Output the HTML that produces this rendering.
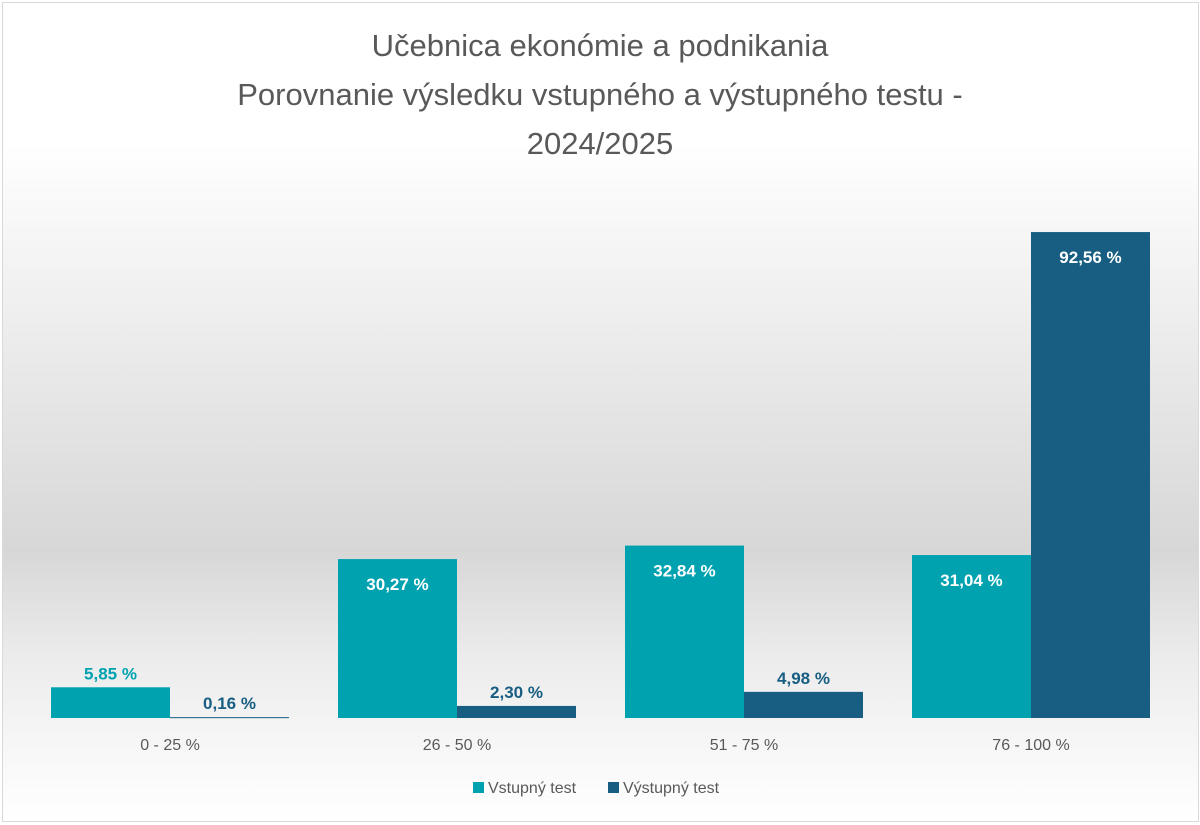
<!DOCTYPE html>
<html><head><meta charset="utf-8">
<style>
body{margin:0;width:1200px;height:825px;overflow:hidden;background:#fff;font-family:"Liberation Sans",sans-serif}
#wrap{position:absolute;left:2px;top:2px;width:1195px;height:818px;border:1px solid #d9d9d9;
background:linear-gradient(to bottom,#fff 0px,#fff 140px,#d7d7d7 548px,#ebebeb 650px,#fbfbfb 780px,#fff 818px)}
</style></head><body>
<div id="wrap"></div>
<svg id="chart" width="1200" height="825" style="position:absolute;left:0;top:0">
<text x="600" y="56" text-anchor="middle" font-size="31" fill="#595959">Učebnica ekonómie a podnikania</text>
<text x="600" y="105" text-anchor="middle" font-size="31" fill="#595959">Porovnanie výsledku vstupného a výstupného testu -</text>
<text x="600" y="154" text-anchor="middle" font-size="31" fill="#595959">2024/2025</text>
<g id="bars"></g>
<g>
<rect x="473" y="782" width="11" height="11" fill="#00a2b0"/>
<text x="488" y="793" font-size="16" fill="#595959">Vstupný test</text>
<rect x="608" y="782" width="11" height="11" fill="#175e82"/>
<text x="623" y="793" font-size="16" fill="#595959">Výstupný test</text>
</g>
</svg>
<script>
const categories=["0 - 25 %","26 - 50 %","51 - 75 %","76 - 100 %"];
const vstupny=[5.85,30.27,32.84,31.04];
const vystupny=[0.16,2.30,4.98,92.56];
const baseY=718, pxPer=5.25, x0=51, groupW=287, barW=119;
const y=v=>baseY-v*pxPer;
const g=document.getElementById('bars');
const NS="http://www.w3.org/2000/svg";
function mk(tag,attrs){const e=document.createElementNS(NS,tag);for(const k in attrs)e.setAttribute(k,attrs[k]);g.appendChild(e);return e;}
const fmt=v=>v.toFixed(2).replace('.',',')+' %';
categories.forEach((c,i)=>{
  const gx=x0+i*groupW;
  [[vstupny[i],'#00a2b0','vstupny'],[vystupny[i],'#175e82','vystupny']].forEach((s,j)=>{
    const bx=gx+j*barW, top=y(s[0]), h=baseY-top;
    const r=mk('rect',{x:bx,y:top,width:barW,height:Math.max(h,1),fill:s[1]});
    
    
    const inside=h>60;
    const t=mk('text',{x:bx+barW/2,y:inside?top+31:top-8,'text-anchor':'middle','font-size':17,'font-weight':'bold',fill:inside?'#fff':s[1]});
    t.textContent=fmt(s[0]);
    
    
  });
  const ct=mk('text',{x:gx+barW,y:750,'text-anchor':'middle','font-size':16,fill:'#595959'});
  ct.textContent=c;
  
  
});
</script>
</body></html>
